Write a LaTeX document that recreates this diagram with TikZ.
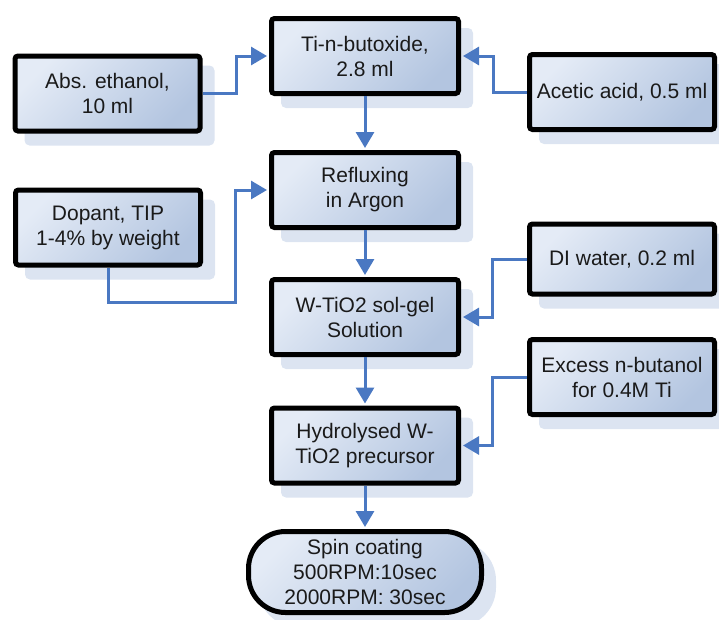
\documentclass[tikz,border=0pt]{standalone}
\usepackage{fontspec}
\setmainfont{Liberation Sans}
\usetikzlibrary{arrows.meta,shadows}
\definecolor{boxlight}{HTML}{E4EBF6}
\definecolor{boxdark}{HTML}{B3C5E0}
\definecolor{shadowc}{HTML}{DCE4F1}
\definecolor{flow}{HTML}{4A78C2}
\definecolor{ink}{HTML}{1A1A1A}
\begin{document}
\begin{tikzpicture}[x=1pt,y=-1pt,
  boxbase/.style={draw=black, line width=5pt, text=ink, align=center,
    font=\fontsize{21}{25}\selectfont, inner sep=0pt,
    top color=boxlight, bottom color=boxdark, shading angle=45,
    general shadow={fill=shadowc, draw=shadowc, line width=5pt,
      shadow xshift=12pt, shadow yshift=-12pt}},
  stepbox/.style={boxbase, rectangle, rounded corners=3pt,
    minimum width=187pt, minimum height=75pt},
  sidebox/.style={stepbox, minimum width=185pt},
  endbox/.style={boxbase, rectangle, rounded corners=37pt,
    minimum width=233pt, minimum height=81pt},
  flowline/.style={draw=flow, line width=3pt, shorten >=2pt,
    -{Triangle[length=16pt,width=18pt]}}
]
\useasboundingbox (0,0) rectangle (719,619);

% ingredient boxes on the left
\node[sidebox] (abs) at (107.5,93.5) {Abs. ethanol,\\10 ml};
\node[sidebox] (dop) at (108,227.5) {Dopant, TIP\\1-4\% by weight};

% main process column
\node[stepbox] (tin) at (365,56) {Ti-n-butoxide,\\2.8 ml};
\node[stepbox] (ref) at (365,190) {Refluxing\\in Argon};
\node[stepbox] (sol) at (365,317) {W-TiO2 sol-gel\\Solution};
\node[stepbox] (hyd) at (365,445.5) {Hydrolysed W-\\TiO2 precursor};
\node[endbox] (spin) at (365,572) {Spin coating\\500RPM:10sec\\2000RPM: 30sec};

% ingredient boxes on the right
\node[sidebox] (ace) at (622,92) {Acetic acid, 0.5 ml};
\node[sidebox, minimum height=70pt] (diw) at (622,259) {DI water, 0.2 ml};
\node[sidebox] (exc) at (622,377) {Excess n-butanol\\for 0.4M Ti};

% feeds into the main column
\coordinate (dopturn) at (235,302);
\draw[flowline] (abs.east) -- ++(34,0) |- (tin.west);
\draw[flowline] (dop.south) |- (dopturn) |- (ref.west);
\draw[flowline] (ace.west) -- ++(-34,0) |- (tin.east);
\draw[flowline] (diw.west) -- ++(-35,0) |- (sol.east);
\draw[flowline] (exc.west) -- ++(-35,0) |- (hyd.east);

% main sequence
\draw[flowline] (tin.south) -- (ref.north);
\draw[flowline] (ref.south) -- (sol.north);
\draw[flowline] (sol.south) -- (hyd.north);
\draw[flowline] (hyd.south) -- (spin.north);
\end{tikzpicture}
\end{document}
